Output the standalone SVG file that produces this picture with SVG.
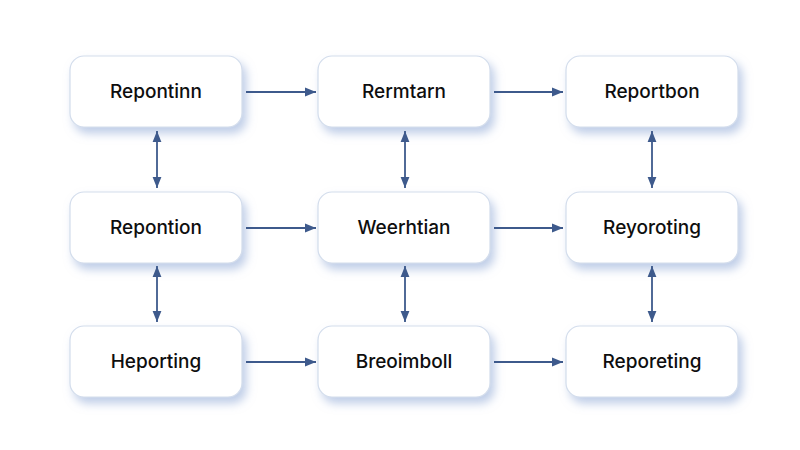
<svg xmlns="http://www.w3.org/2000/svg" width="800" height="450" viewBox="0 0 800 450">
<defs>
<filter id="sh" x="-20%" y="-30%" width="150%" height="170%">
<feGaussianBlur in="SourceAlpha" stdDeviation="5"/>
<feOffset dx="4" dy="6" result="b"/>
<feFlood flood-color="#94acd8" flood-opacity="0.6"/>
<feComposite in2="b" operator="in"/>
<feMerge><feMergeNode/><feMergeNode in="SourceGraphic"/></feMerge>
</filter>
<marker id="ah" viewBox="0 0 10 10" refX="10" refY="5" markerWidth="11" markerHeight="11" markerUnits="userSpaceOnUse" orient="auto-start-reverse">
<path d="M0,1 L10,5 L0,9 Z" fill="#3e5a8c"/>
</marker>
</defs>
<style>
.box{fill:#ffffff;stroke:#d3ddec;stroke-width:1.2;filter:url(#sh)}
.lbl{font-family:Inter,"Noto Sans",sans-serif;font-size:19px;font-weight:500;fill:#0e0e0e;text-anchor:middle}
.c{stroke:#3e5a8c;stroke-width:1.8;fill:none}
</style>
<rect width="800" height="450" fill="#ffffff"/>
<g id="n1"><rect class="box" x="70" y="56" width="172" height="71" rx="14"/><text class="lbl" x="156" y="98">Repontinn</text></g>
<g id="n2"><rect class="box" x="318" y="56" width="172" height="71" rx="14"/><text class="lbl" x="404" y="98">Rermtarn</text></g>
<g id="n3"><rect class="box" x="566" y="56" width="172" height="71" rx="14"/><text class="lbl" x="652" y="98">Reportbon</text></g>
<g id="n4"><rect class="box" x="70" y="192" width="172" height="71" rx="14"/><text class="lbl" x="156" y="234">Repontion</text></g>
<g id="n5"><rect class="box" x="318" y="192" width="172" height="71" rx="14"/><text class="lbl" x="404" y="234">Weerhtian</text></g>
<g id="n6"><rect class="box" x="566" y="192" width="172" height="71" rx="14"/><text class="lbl" x="652" y="234">Reyoroting</text></g>
<g id="n7"><rect class="box" x="70" y="326" width="172" height="71" rx="14"/><text class="lbl" x="156" y="368">Heporting</text></g>
<g id="n8"><rect class="box" x="318" y="326" width="172" height="71" rx="14"/><text class="lbl" x="404" y="368">Breoimboll</text></g>
<g id="n9"><rect class="box" x="566" y="326" width="172" height="71" rx="14"/><text class="lbl" x="652" y="368">Reporeting</text></g>
<g id="connectors">
<line class="c" x1="246" y1="92" x2="316" y2="92" marker-end="url(#ah)"/>
<line class="c" x1="494" y1="92" x2="563" y2="92" marker-end="url(#ah)"/>
<line class="c" x1="246" y1="228" x2="316" y2="228" marker-end="url(#ah)"/>
<line class="c" x1="494" y1="228" x2="563" y2="228" marker-end="url(#ah)"/>
<line class="c" x1="246" y1="362" x2="316" y2="362" marker-end="url(#ah)"/>
<line class="c" x1="494" y1="362" x2="563" y2="362" marker-end="url(#ah)"/>
<line class="c" x1="157" y1="131" x2="157" y2="188" marker-start="url(#ah)" marker-end="url(#ah)"/>
<line class="c" x1="157" y1="266" x2="157" y2="322" marker-start="url(#ah)" marker-end="url(#ah)"/>
<line class="c" x1="405" y1="131" x2="405" y2="188" marker-start="url(#ah)" marker-end="url(#ah)"/>
<line class="c" x1="405" y1="266" x2="405" y2="322" marker-start="url(#ah)" marker-end="url(#ah)"/>
<line class="c" x1="652" y1="131" x2="652" y2="188" marker-start="url(#ah)" marker-end="url(#ah)"/>
<line class="c" x1="652" y1="266" x2="652" y2="322" marker-start="url(#ah)" marker-end="url(#ah)"/>
</g>
</svg>
